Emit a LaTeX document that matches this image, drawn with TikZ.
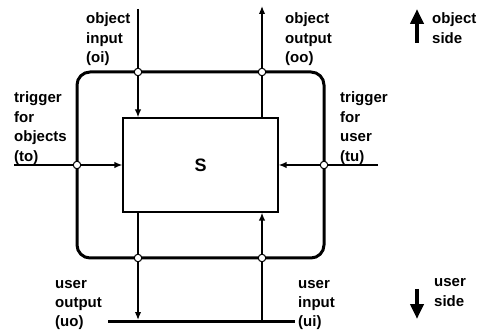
\documentclass[tikz,border=0pt]{standalone}
\usepackage{fontspec}
\setmainfont{Liberation Sans}
\usetikzlibrary{arrows.meta}
\tikzset{
  frame/.style={line width=3pt, rounded corners=13pt},
  flow/.style={line width=1.4pt, -{Latex[length=8pt,width=6.5pt]}},
  junction/.style={circle, draw, fill=white, line width=1pt, inner sep=0pt, minimum size=7.5pt},
  lbl/.style={anchor=base west, inner sep=0pt, font=\fontsize{15}{19.5}\selectfont\bfseries},
  sidearrow/.style={line width=4.5pt, -{Triangle[length=15pt,width=13pt]}},
  sysbox/.style={draw, line width=1.3pt, minimum width=155pt, minimum height=94pt, inner sep=0pt, font=\fontsize{18}{20}\selectfont\bfseries},
}
\newcommand{\lines}[1]{\begin{tabular}[t]{@{}l@{}}#1\end{tabular}}
\begin{document}
\begin{tikzpicture}[x=1pt,y=-1pt]
\useasboundingbox (0,0) rectangle (484,336);
% system box
\node[sysbox] (S) at (200.5,165) {S};
% junction positions
\coordinate (joi) at (138,72);
\coordinate (joo) at (262,72);
\coordinate (jto) at (77,165);
\coordinate (jtu) at (324,165);
\coordinate (juo) at (138,258);
\coordinate (jui) at (262,258);
% free ends
\coordinate (oiTop) at (138,9);
\coordinate (ooTop) at (262,6);
\coordinate (toL) at (14,165);
\coordinate (tuR) at (378,165);
\coordinate (uoBot) at (138,320);
\coordinate (baseL) at (108,321.5);
\coordinate (baseR) at (295,321.5);
% frame
\draw[frame] (jto |- joi) rectangle (jtu |- juo);
% user baseline
\draw[line width=3pt] (baseL) -- (baseR);
% flows
\draw[flow] (oiTop) -- (S.north -| oiTop);
\draw[flow] (S.north -| ooTop) -- (ooTop);
\draw[flow] (toL) -- (S.west);
\draw[flow] (tuR) -- (S.east);
\draw[flow] (S.south -| uoBot) -- (uoBot);
\draw[flow] (baseR -| jui) -- (S.south -| jui);
% junction circles
\node[junction] (oi) at (joi) {};
\node[junction] (oo) at (joo) {};
\node[junction] (to) at (jto) {};
\node[junction] (tu) at (jtu) {};
\node[junction] (uo) at (juo) {};
\node[junction] (ui) at (jui) {};
% labels
\node[lbl] (Loi) at (86,24) {\lines{object\\input\\(oi)}};
\node[lbl] (Loo) at (285,24) {\lines{object\\output\\(oo)}};
\node[lbl] (Lto) at (14,103) {\lines{trigger\\for\\objects\\(to)}};
\node[lbl] (Ltu) at (340,103) {\lines{trigger\\for\\user\\(tu)}};
\node[lbl] (Luo) at (55,288) {\lines{user\\output\\(uo)}};
\node[lbl] (Lui) at (298,288) {\lines{user\\input\\(ui)}};
% sides
\node[lbl] (Los) at (432,24) {\lines{object\\side}};
\node[lbl] (Lus) at (434,287) {\lines{user\\side}};
\coordinate (osB) at (417,43);
\coordinate (osT) at (417,9);
\coordinate (usT) at (417,289);
\coordinate (usB) at (417,319);
\draw[sidearrow] (osB) -- (osT);
\draw[sidearrow] (usT) -- (usB);
\end{tikzpicture}
\end{document}
